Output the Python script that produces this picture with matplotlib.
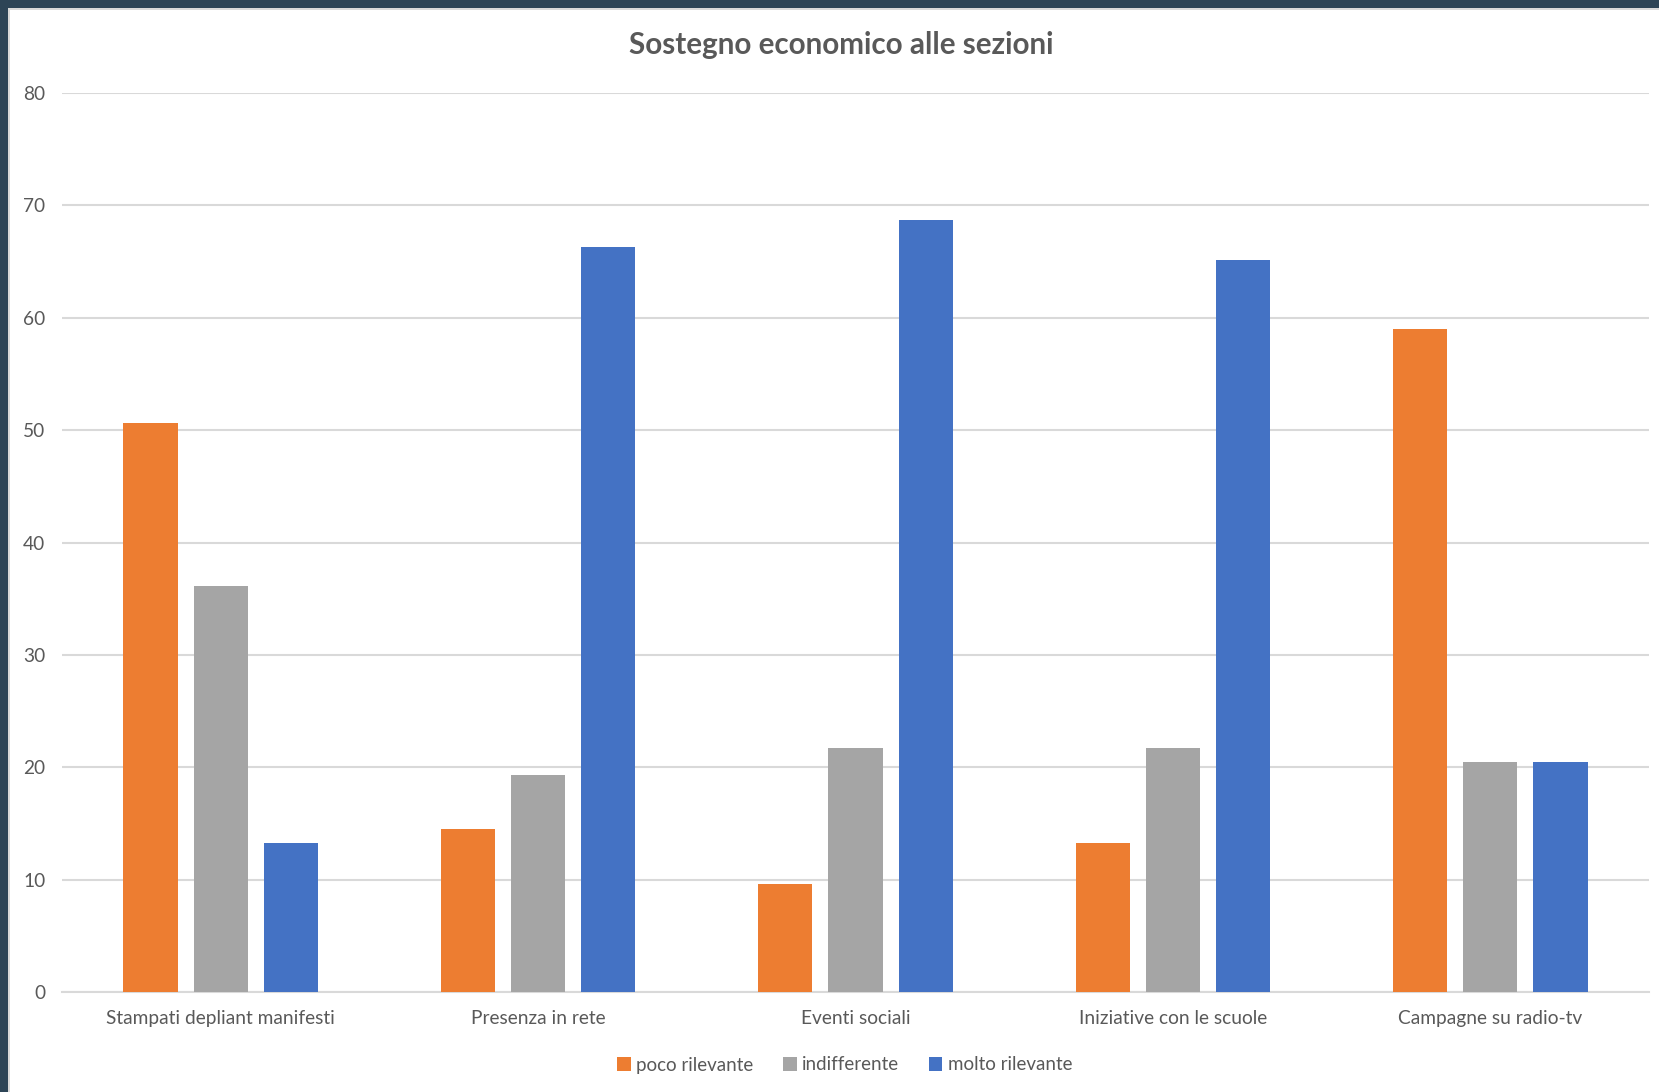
import matplotlib.pyplot as plt
import numpy as np
from matplotlib.patches import Rectangle

# Data
categories = ['Stampati depliant manifesti', 'Presenza in rete', 'Eventi sociali',
              'Iniziative con le scuole', 'Campagne su radio-tv']
poco = [50.6, 14.5, 9.6, 13.3, 59.0]
indifferente = [36.1, 19.3, 21.7, 21.7, 20.5]
molto = [13.3, 66.3, 68.7, 65.1, 20.5]
series_names = ['poco rilevante', 'indifferente', 'molto rilevante']
colors = ['#ED7D31', '#A5A5A5', '#4472C4']
yticks = [0, 10, 20, 30, 40, 50, 60, 70, 80]

plt.rcParams['font.family'] = ['Lato', 'DejaVu Sans']
text_color = '#595959'

W, H = 1659, 1092
fig = plt.figure(figsize=(W / 100, H / 100), dpi=100, facecolor='#2d4456')

# white slide panel with a thin light border (kept behind the axes)
fig.patches.append(Rectangle((8 / W, 0), 1, 1 - 8 / H, transform=fig.transFigure,
                             facecolor='#d9d9d9', edgecolor='none', zorder=-10))
fig.patches.append(Rectangle((10 / W, 0), 1, 1 - 10 / H, transform=fig.transFigure,
                             facecolor='white', edgecolor='none', zorder=-9))

# axes: x 62..1649 px, y 93..992 px (top to bottom)
ax = fig.add_axes([62 / W, 1 - 992 / H, (1649 - 62) / W, (992 - 93) / H])
ax.set_facecolor('none')

x = np.arange(len(categories))
width = 0.171
offset = 0.221
for i, (vals, name, c) in enumerate(zip([poco, indifferente, molto], series_names, colors)):
    ax.bar(x + (i - 1) * offset, vals, width, color=c, label=name, zorder=3)

ax.set_xlim(-0.5, len(categories) - 0.5)
ax.set_ylim(0, 80)
ax.set_yticks(yticks)
ax.set_yticklabels([str(t) for t in yticks])
ax.set_xticks(x)
ax.set_xticklabels(categories)
ax.grid(axis='y', color='#d9d9d9', linewidth=1.5, zorder=0)
ax.set_axisbelow(True)
for s in ['top', 'right', 'left']:
    ax.spines[s].set_visible(False)
ax.spines['bottom'].set_color('#d9d9d9')
ax.spines['bottom'].set_linewidth(1.5)
ax.tick_params(axis='both', length=0, labelsize=13.8, labelcolor=text_color)
ax.tick_params(axis='y', pad=12)
ax.tick_params(axis='x', pad=13)

fig.text(841 / W, 1 - 45 / H, 'Sostegno economico alle sezioni', ha='center', va='center',
         fontsize=21.3, fontweight='bold', color=text_color)

fig.legend(loc='center', bbox_to_anchor=(845 / W, 1 - 1065 / H), ncol=3, frameon=False,
           fontsize=13.5, labelcolor=text_color, handlelength=0.7, handleheight=0.7,
           handletextpad=0.3, columnspacing=1.6)

fig.savefig('out.png', dpi=100, facecolor=fig.get_facecolor())
